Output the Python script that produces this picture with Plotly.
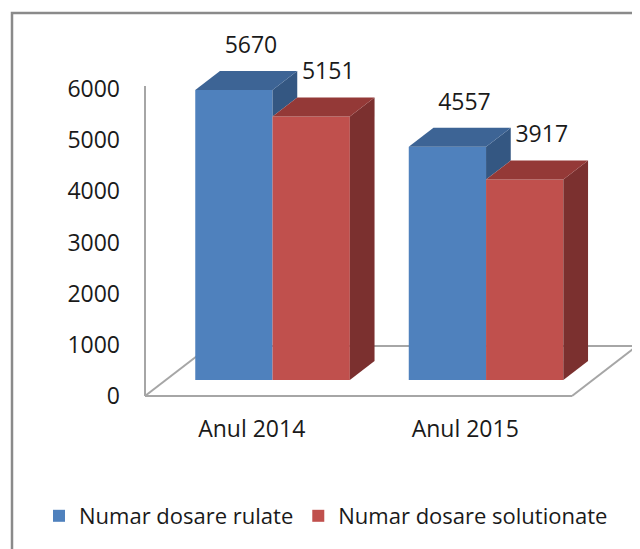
import plotly.graph_objects as go

# data
categories = ["Anul 2014", "Anul 2015"]
series_names = ["Numar dosare rulate", "Numar dosare solutionate"]
rulate = [5670, 4557]
solutionate = [5151, 3917]
y_ticks = [0, 1000, 2000, 3000, 4000, 5000, 6000]

# colours: front, top, side
front_cols = ["#4F81BD", "#C0504D"]
top_cols = ["#3D6495", "#943937"]
side_cols = ["#345782", "#7B302F"]

# pseudo 3d geometry (x in category units, y in data units)
# the page body adds an 8px margin, so everything is placed 8px up/left
W, H = 640, 549
ML, MR, MT, MB = 135, 0, 12, 152
plot_w = W - ML - MR
plot_h = H - MT - MB
px_per_x = 213.5          # pixels per category step
px_per_y = 307 / 6000     # pixels per data unit
x_left = -0.5 - 2 / px_per_x
x_range = [x_left, x_left + plot_w / px_per_x]
y_low = -9 / px_per_y
y_range = [y_low, y_low + plot_h / px_per_y]

DX = 65 / px_per_x        # floor depth, x part
DY = 50 / px_per_y        # floor depth, y part
t1, t2 = 0.32, 0.70       # bar front / back depth
BW = 0.362                # bar width

fx, fy = t1 * DX, t1 * DY
ddx, ddy = (t2 - t1) * DX, (t2 - t1) * DY

fig = go.Figure()

series = [rulate, solutionate]
for s, vals in enumerate(series):
    xs = [i - BW + s * BW + BW / 2 + fx for i in range(len(categories))]
    fig.add_trace(go.Bar(
        x=xs, y=vals, base=fy, width=BW, name=series_names[s],
        marker=dict(color=front_cols[s], line=dict(width=0)),
        hoverinfo="skip",
    ))

# tops and sides
for i in range(len(categories)):
    for s, vals in enumerate(series):
        v = vals[i] + fy
        x0 = i - BW + s * BW + fx
        x1 = x0 + BW
        # side face (blue one only visible above the red bar)
        low = fy
        if s == 0:
            low = solutionate[i] + fy
        fig.add_trace(go.Scatter(
            x=[x1, x1, x1 + ddx, x1 + ddx, x1],
            y=[low, v, v + ddy, low + ddy, low],
            fill="toself", fillcolor=side_cols[s], mode="lines",
            line=dict(width=0, color=side_cols[s]), showlegend=False, hoverinfo="skip",
        ))
        fig.add_trace(go.Scatter(
            x=[x0, x1, x1 + ddx, x0 + ddx, x0],
            y=[v, v, v + ddy, v + ddy, v],
            fill="toself", fillcolor=top_cols[s], mode="lines",
            line=dict(width=0, color=top_cols[s]), showlegend=False, hoverinfo="skip",
        ))

# value labels
lab_x, lab_y, lab_t = [], [], []
for i in range(len(categories)):
    for s, vals in enumerate(series):
        x0 = i - BW + s * BW + fx
        lab_x.append(x0 + BW / 2 + 0.08)
        lab_y.append(vals[i] + fy + ddy + 24 / px_per_y)
        lab_t.append(str(vals[i]))
fig.add_trace(go.Scatter(
    x=lab_x, y=lab_y, text=lab_t, mode="text", textposition="middle center",
    textfont=dict(size=23, color="#1a1a1a"), showlegend=False, hoverinfo="skip",
    cliponaxis=False,
))

# floor and axis line
gray = "#a6a6a6"
xa, xb = -0.5, 1.5
floor = [
    (xa, 0, xb, 0),
    (xa, 0, xa + DX, DY),
    (xb, 0, xb + DX, DY),
    (xa + DX, DY, xb + DX, DY),
    (xa, 0, xa, 6060),
]
shapes = []
for a, b, c, d in floor:
    shapes.append(dict(type="line", xref="x", yref="y", x0=a, y0=b, x1=c, y1=d,
                       line=dict(color=gray, width=2), layer="below"))

# outer frame
shapes.append(dict(type="rect", xref="paper", yref="paper",
                   x0=(4 - ML) / plot_w, x1=1.2,
                   y0=-1, y1=(plot_h + MT - 5) / plot_h,
                   line=dict(color="#8a8a8a", width=2.5)))

fig.update_layout(
    width=W, height=H,
    margin=dict(l=ML, r=MR, t=MT, b=MB, autoexpand=False),
    plot_bgcolor="white", paper_bgcolor="white",
    font=dict(family="Open Sans", size=23, color="#1a1a1a"),
    barmode="overlay",
    shapes=shapes,
    showlegend=True,
    legend=dict(orientation="h", x=(31 - ML) / plot_w, y=(H - MB - 508) / plot_h,
                xanchor="left", yanchor="middle",
                font=dict(size=22), itemwidth=30, traceorder="normal"),
)
fig.update_xaxes(range=x_range, tickvals=[0, 1], ticktext=categories,
                 showgrid=False, zeroline=False, showline=False,
                 ticks="", ticklabelstandoff=8, fixedrange=True)
fig.update_yaxes(range=y_range, tickvals=y_ticks,
                 showgrid=False, zeroline=False, showline=False,
                 ticks="", ticklabelstandoff=22, fixedrange=True)

fig.write_html("out.html")
